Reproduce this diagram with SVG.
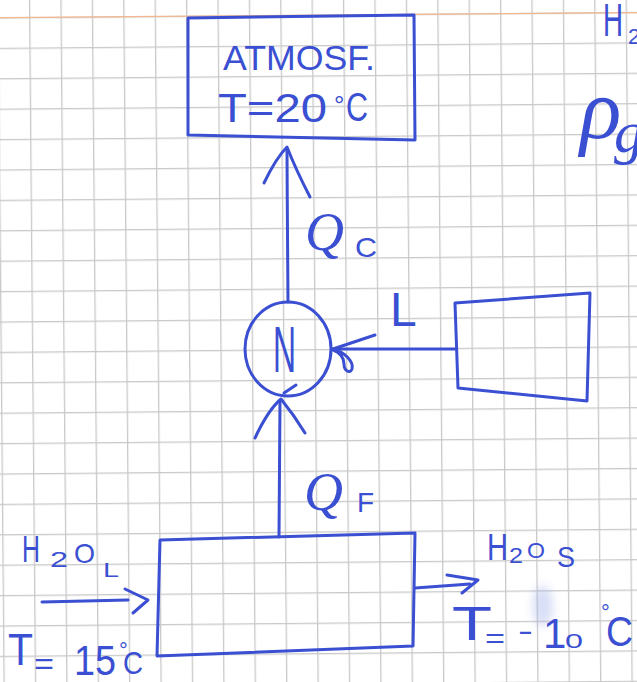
<svg xmlns="http://www.w3.org/2000/svg" width="637" height="682" viewBox="0 0 637 682">
<defs>
  <pattern id="grid" patternUnits="userSpaceOnUse" width="31.4" height="30.4" patternTransform="translate(29.05,17.15) rotate(-0.5)">
    <rect x="0" y="0" width="31.4" height="1.3" fill="#c9c9c9"/>
    <rect x="0" y="0" width="1.3" height="30.4" fill="#c9c9c9"/>
  </pattern>
  <filter id="blur" x="-50%" y="-50%" width="200%" height="200%">
    <feGaussianBlur stdDeviation="5"/>
  </filter>
  <style>
    .ink { fill: none; stroke: #3a4fd2; stroke-width: 3; stroke-linecap: round; stroke-linejoin: round; }
    .t { fill: #3a4fd2; font-family: "Liberation Sans", "DejaVu Sans", sans-serif; }
    .s { fill: #3a4fd2; font-family: "Liberation Serif", "DejaVu Serif", serif; font-style: italic; }
  </style>
</defs>

<!-- paper -->
<rect x="0" y="0" width="637" height="682" fill="#ffffff"/>
<rect x="0" y="0" width="637" height="682" fill="url(#grid)"/>
<line x1="0" y1="17.6" x2="637" y2="12.6" stroke="#f2b890" stroke-width="1.4"/>
<ellipse cx="543" cy="606" rx="10" ry="20" fill="#8fa2e6" opacity="0.35" filter="url(#blur)"/>

<!-- atmosphere -->
<g id="atmosfera">
  <path class="ink" d="M188,18 L414,15 L415,140 L188,135 Z"/>
  <text class="t" x="223" y="70" font-size="35" textLength="152" lengthAdjust="spacingAndGlyphs">ATMOSF.</text>
  <text class="t" font-size="40"><tspan x="218" y="122" textLength="109" lengthAdjust="spacingAndGlyphs">T=20</tspan><tspan x="334" y="114" font-size="26">°</tspan><tspan x="346" y="121" textLength="22" lengthAdjust="spacingAndGlyphs">C</tspan></text>
</g>

<!-- machine -->
<g id="maquina">
  <ellipse class="ink" cx="288" cy="349" rx="43" ry="47"/>
  <text class="t" x="273" y="372" font-size="64" textLength="23" lengthAdjust="spacingAndGlyphs">N</text>
</g>

<!-- work source -->
<g id="fuente-trabajo">
  <path class="ink" d="M455,303 L590,293 L587,401 L458,388 Z"/>
</g>

<!-- freezer -->
<g id="congelador">
  <path class="ink" d="M160,540 L415,533 L413,646 L157,656 Z"/>
</g>

<!-- connectors -->
<g id="connectors">
  <g id="qc">
    <path class="ink" d="M288,302 C288,250 287,200 287,149"/>
    <path class="ink" d="M264,183 Q276,158 287,147 Q296,170 310,197"/>
  </g>
  <g id="l">
    <path class="ink" d="M455,349 L333,349"/>
    <path class="ink" d="M375,335 L333,349 C345,352 354,362 352,369 C350,374 344,371 344,364 C344,358 340,352 333,350"/>
  </g>
  <g id="qf">
    <path class="ink" d="M279,537 L280,401"/>
    <path class="ink" d="M255,438 Q268,410 281,399 Q294,415 305,433"/>
    <path class="ink" d="M284,393 L296,385"/>
  </g>
  <g id="in">
    <path class="ink" d="M42,602 L128,600"/>
    <path class="ink" d="M125,589 L148,600 L133,613"/>
  </g>
  <g id="out">
    <path class="ink" d="M415,588 L470,584"/>
    <path class="ink" d="M447,575 L478,580 L462,593"/>
  </g>
</g>

<!-- labels -->
<g id="labels">
  <text class="s" x="305" y="250" font-size="54">Q</text>
  <text class="t" x="355" y="257" font-size="28" textLength="22" lengthAdjust="spacingAndGlyphs">C</text>
  <text class="t" x="390" y="326" font-size="48">L</text>
  <text class="s" x="304" y="510" font-size="54">Q</text>
  <text class="t" x="357" y="512" font-size="28">F</text>

  <text id="h2o-l" class="t" font-size="37"><tspan x="22" y="562" textLength="18" lengthAdjust="spacingAndGlyphs">H</tspan><tspan x="50" y="567" font-size="22" textLength="18" lengthAdjust="spacingAndGlyphs">2</tspan><tspan x="74" y="563" font-size="28" textLength="21" lengthAdjust="spacingAndGlyphs">O</tspan><tspan x="103" y="577" font-size="20" textLength="16" lengthAdjust="spacingAndGlyphs">L</tspan></text>

  <text id="t15" class="t" font-size="44"><tspan x="8" y="665" textLength="25" lengthAdjust="spacingAndGlyphs">T</tspan><tspan x="34" y="674" font-size="30" textLength="20" lengthAdjust="spacingAndGlyphs">=</tspan><tspan x="74" y="675" font-size="42" textLength="42" lengthAdjust="spacingAndGlyphs">15</tspan><tspan x="119" y="658" font-size="22">°</tspan><tspan x="123" y="674" font-size="32" textLength="20" lengthAdjust="spacingAndGlyphs">C</tspan></text>

  <text id="h2o-s" class="t" font-size="36"><tspan x="487" y="560" textLength="21" lengthAdjust="spacingAndGlyphs">H</tspan><tspan x="509" y="563" font-size="22" textLength="14" lengthAdjust="spacingAndGlyphs">2</tspan><tspan x="527" y="558" font-size="22" textLength="18" lengthAdjust="spacingAndGlyphs">O</tspan><tspan x="557" y="567" font-size="30" textLength="18" lengthAdjust="spacingAndGlyphs">S</tspan></text>

  <text id="t-10" class="t" font-size="48"><tspan x="452" y="640" textLength="40" lengthAdjust="spacingAndGlyphs">T</tspan><tspan x="485" y="648" font-size="28" textLength="20" lengthAdjust="spacingAndGlyphs">=</tspan><tspan x="518" y="641" font-size="30" textLength="15" lengthAdjust="spacingAndGlyphs">-</tspan><tspan x="543" y="648" font-size="42">1</tspan><tspan x="565" y="648" font-size="21" textLength="18" lengthAdjust="spacingAndGlyphs">0</tspan><tspan x="601" y="620" font-size="22">°</tspan><tspan x="606" y="646" font-size="42" textLength="27" lengthAdjust="spacingAndGlyphs">C</tspan></text>

  <text class="t" font-size="46"><tspan x="603" y="36" textLength="20" lengthAdjust="spacingAndGlyphs">H</tspan><tspan x="628" y="44" font-size="22">2</tspan></text>
  <text class="s" font-size="86"><tspan x="580" y="138">ρ</tspan><tspan x="614" y="152" font-size="60">g</tspan></text>
</g>
</svg>
